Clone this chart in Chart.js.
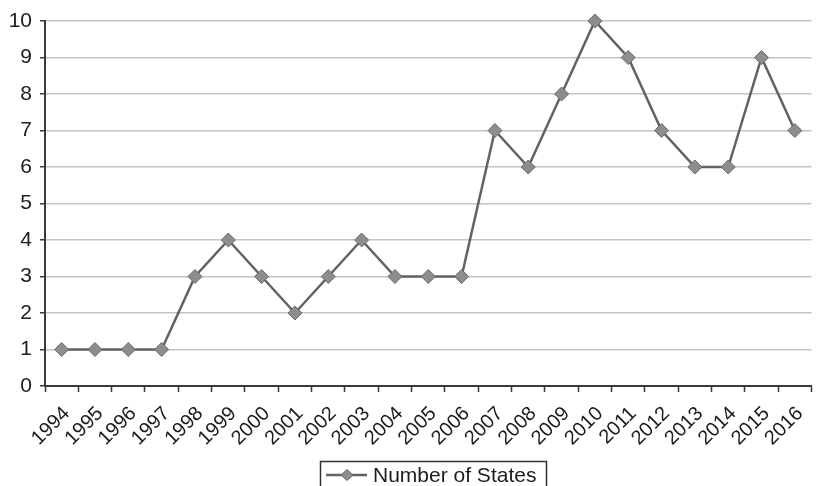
<!DOCTYPE html>
<html>
<head>
<meta charset="utf-8">
<script src="https://cdn.jsdelivr.net/npm/chart.js@4/dist/chart.umd.min.js"></script>
<style>
  html, body { margin: 0; padding: 0; background: #fff; overflow: hidden; }
  #wrap { width: 816px; height: 486px; overflow: hidden; position: relative; }
  canvas { display: block; }
</style>
</head>
<body>
<div id="wrap"><canvas id="c" width="822" height="486"></canvas></div>
<script>
const years = ['1994','1995','1996','1997','1998','1999','2000','2001','2002','2003','2004','2005','2006','2007','2008','2009','2010','2011','2012','2013','2014','2015','2016'];
const numberOfStates = [1,1,1,1,3,4,3,2,3,4,3,3,3,7,6,8,10,9,7,6,6,9,7];
const seriesLabel = 'Number of States';
const yTicks = [0,1,2,3,4,5,6,7,8,9,10];

const FONT = '"Liberation Sans", Arial, Helvetica, sans-serif';
const LINE = '#626262';
const MFILL = '#8d8d8d';
const MBORDER = '#6a6a6a';
const AXIS = '#3a3a3a';
const TEXT = '#1c1c1c';

const boxLegend = {
  id: 'boxLegend',
  afterDraw(chart) {
    const ctx = chart.ctx;
    const label = chart.data.datasets[0].label;
    ctx.save();
    ctx.strokeStyle = '#333';
    ctx.lineWidth = 1.5;
    ctx.strokeRect(320.5, 461.5, 226, 40);
    ctx.strokeStyle = LINE;
    ctx.lineWidth = 2.5;
    ctx.beginPath();
    ctx.moveTo(326, 475);
    ctx.lineTo(367, 475);
    ctx.stroke();
    ctx.beginPath();
    ctx.moveTo(347, 469.5); ctx.lineTo(353, 475); ctx.lineTo(347, 480.5); ctx.lineTo(341, 475); ctx.closePath();
    ctx.fillStyle = MFILL; ctx.fill();
    ctx.strokeStyle = MBORDER; ctx.lineWidth = 1; ctx.stroke();
    ctx.fillStyle = TEXT;
    ctx.font = '21px ' + FONT;
    ctx.textBaseline = 'alphabetic';
    ctx.textAlign = 'left';
    ctx.fillText(label, 373, 482);
    ctx.restore();
  }
};

new Chart(document.getElementById('c'), {
  type: 'line',
  data: {
    labels: years,
    datasets: [{
      label: seriesLabel,
      data: numberOfStates,
      borderColor: LINE,
      borderWidth: 2.5,
      pointStyle: 'rectRot',
      pointRadius: 7,
      pointHoverRadius: 7,
      pointBackgroundColor: MFILL,
      pointBorderColor: MBORDER,
      pointBorderWidth: 1,
      tension: 0,
      fill: false,
      clip: false
    }]
  },
  options: {
    responsive: false,
    animation: false,
    events: [],
    layout: { padding: { top: 21, left: 0, right: 0, bottom: 0 } },
    plugins: { legend: { display: false }, tooltip: { enabled: false } },
    scales: {
      x: {
        type: 'category',
        offset: true,
        afterFit(scale) { scale.height = 100; },
        grid: { display: true, drawOnChartArea: false, drawTicks: true, offset: true, tickLength: 6, tickColor: AXIS, tickWidth: 1.5 },
        border: { display: true, color: AXIS, width: 2 },
        ticks: {
          autoSkip: false, maxRotation: 45, minRotation: 45,
          padding: 10,
          labelOffset: 5,
          color: TEXT,
          font: { family: FONT, size: 20 }
        }
      },
      y: {
        min: 0, max: 10,
        afterFit(scale) { scale.width = 45; },
        afterBuildTicks(scale) { scale.ticks = yTicks.map(v => ({ value: v })); },
        grid: { color: '#c4c4c4', lineWidth: 1.5, tickLength: 5, tickColor: AXIS, tickWidth: 1.5 },
        border: { display: true, color: AXIS, width: 2 },
        ticks: {
          stepSize: 1, padding: 8, color: TEXT,
          font: { family: FONT, size: 21 }
        }
      }
    }
  },
  plugins: [boxLegend]
});
</script>
</body>
</html>
